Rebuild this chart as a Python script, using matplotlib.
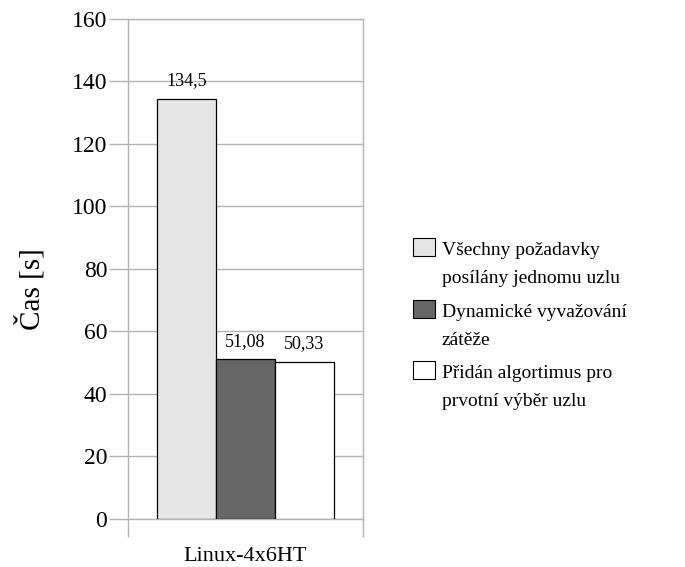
import matplotlib
matplotlib.use("Agg")
import matplotlib.pyplot as plt
from matplotlib.patches import Rectangle

plt.rcParams['font.family'] = ['Liberation Serif', 'DejaVu Serif']

category = "Linux-4x6HT"
series_names = [
    ["Všechny požadavky", "posílány jednomu uzlu"],
    ["Dynamické vyvažování", "zátěže"],
    ["Přidán algortimus pro", "prvotní výběr uzlu"],
]
values = [134.5, 51.08, 50.33]
value_labels = ["134,5", "51,08", "50,33"]
colors = ["#e6e6e6", "#666666", "#ffffff"]
y_ticks = [0, 20, 40, 60, 80, 100, 120, 140, 160]

grid_col = "#b3b3b3"
W, H = 685, 567

fig = plt.figure(figsize=(W / 100, H / 100), dpi=100)
ax = fig.add_axes([0.1869, 0.0847, 0.3431, 0.8818])

centers = [0.25, 0.5, 0.75]
width = 0.25
bars = ax.bar(centers, values, width=width, color=colors,
              edgecolor="black", linewidth=0.9, zorder=3)
for b, lab in zip(bars, value_labels):
    ax.text(b.get_x() + b.get_width() / 2, b.get_height() + 3, lab,
            ha="center", va="bottom", fontsize=13)

ax.set_xlim(0, 1)
ax.set_ylim(0, 160)
ax.set_yticks(y_ticks)
ax.set_yticklabels([str(t) for t in y_ticks], fontsize=17)
ax.yaxis.grid(True, color=grid_col, linewidth=1.0, zorder=0)
ax.tick_params(axis="y", length=14, color=grid_col, width=1.0, pad=1)

# category boundaries as outward ticks
ax.set_xticks([0, 1])
ax.set_xticklabels(["", ""])
ax.tick_params(axis="x", length=13, color=grid_col, width=1.0)
ax.text(0.5, -0.056, category, transform=ax.transAxes,
        ha="center", va="top", fontsize=16)

for s in ["left", "right", "top", "bottom"]:
    ax.spines[s].set_color(grid_col)
    ax.spines[s].set_linewidth(1.0)

fig.text(0.044, 0.49, "Čas [s]", rotation=90, ha="center", va="center",
         fontsize=21)

# legend: swatch aligned with the first line of each two-line entry
entry_top = [255, 317, 378]   # baseline of first line (px from top)
line_gap = 28
box_x, box_w, box_h = 413, 22, 18
text_x = 442
for color, lines, base in zip(colors, series_names, entry_top):
    fig.patches.append(Rectangle(
        (box_x / W, 1 - (base + 1) / H), box_w / W, box_h / H,
        transform=fig.transFigure, facecolor=color, edgecolor="black",
        linewidth=0.8))
    for i, line in enumerate(lines):
        fig.text(text_x / W, 1 - (base + i * line_gap) / H, line,
                 ha="left", va="baseline", fontsize=14)

fig.savefig("out.png", dpi=100)
